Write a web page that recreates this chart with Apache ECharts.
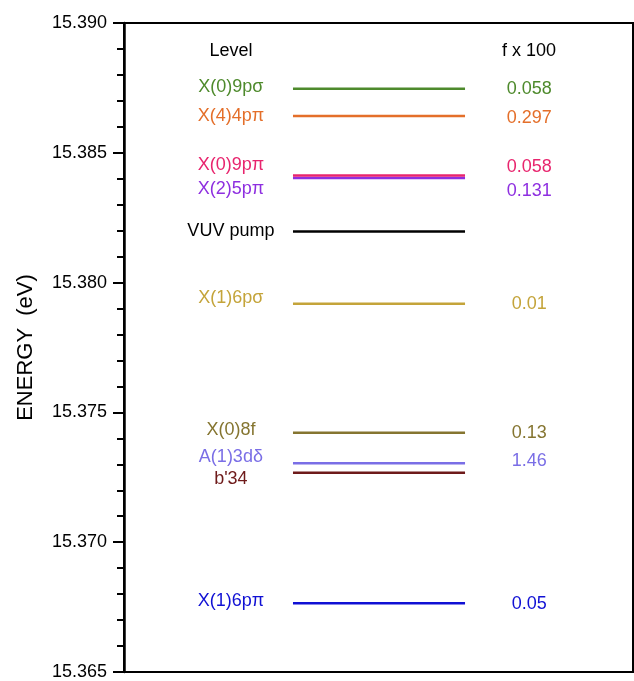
<!DOCTYPE html>
<html>
<head>
<meta charset="utf-8">
<script src="https://cdn.jsdelivr.net/npm/echarts@6/dist/echarts.min.js"></script>
<style>
  html, body { margin: 0; padding: 0; background: #fff; }
  #chart { width: 634px; height: 681px; }
</style>
</head>
<body>
<div id="chart"></div>
<script>
// level names, energies (eV), oscillator strengths (f x 100)
var levelNames = ['X(0)9p\u03c3', 'X(4)4p\u03c0', 'X(0)9p\u03c0', 'X(2)5p\u03c0', 'VUV pump',
                  'X(1)6p\u03c3', 'X(0)8f', 'A(1)3d\u03b4', "b'34", 'X(1)6p\u03c0'];
var levelEnergy = [15.38747, 15.38642, 15.38413, 15.38403, 15.38197,
                   15.37919, 15.37422, 15.37304, 15.37268, 15.36765];
var fValues = ['0.058', '0.297', '0.058', '0.131', '',
               '0.01', '0.13', '1.46', '', '0.05'];
var yTicks = [15.365, 15.370, 15.375, 15.380, 15.385, 15.390];

var colors = ['#4e8a2c', '#e46f2a', '#e8256e', '#8e2fe0', '#000000',
              '#c4a43a', '#857530', '#7a6ee6', '#6e1a1a', '#1010d4'];
// label nudges (px) so overlapping names stay readable
var leftDy  = [-2, 0, -10, 11, 0, -6, -3, -6, 6, -2];
var rightDy = [0, 2, -8, 13, 0, 0, 0, -2, 0, 1];

var X0 = 0.332, X1 = 0.670;     // level bar extent (fraction of plot)
var LX = 0.210, RX = 0.796;     // label columns
var font = 'Liberation Sans, Arial, sans-serif';

var series = [];
levelEnergy.forEach(function(e, i) {
    series.push({
        name: levelNames[i],
        type: 'line',
        data: [[X0, e], [X1, e]],
        symbol: 'none',
        silent: true,
        lineStyle: { color: colors[i], width: 2.5 },
        z: i === 2 ? 3 : 2
    });
});

var labelData = [];
levelEnergy.forEach(function(e, i) {
    labelData.push({
        value: [LX, e],
        label: { formatter: levelNames[i], color: colors[i], offset: [0, leftDy[i]] }
    });
    if (fValues[i]) {
        labelData.push({
            value: [RX, e],
            label: { formatter: fValues[i], color: colors[i], offset: [0, rightDy[i]] }
        });
    }
});
series.push({
    type: 'scatter',
    data: labelData,
    symbolSize: 0,
    silent: true,
    itemStyle: { opacity: 1 },
    label: {
        show: true,
        position: 'inside',
        align: 'center',
        verticalAlign: 'middle',
        fontFamily: font,
        fontSize: 18
    }
});

var myChart = echarts.init(document.getElementById('chart'));
myChart.setOption({
    animation: false,
    grid: {
        left: 124, right: 1, top: 23, bottom: 8,
        show: true, borderColor: '#000', borderWidth: 2
    },
    xAxis: { type: 'value', min: 0, max: 1, show: false },
    yAxis: {
        type: 'value',
        min: yTicks[0],
        max: yTicks[yTicks.length - 1],
        interval: 0.005,
        name: 'ENERGY  (eV)',
        nameLocation: 'middle',
        nameGap: 87,
        nameTextStyle: { fontFamily: font, fontSize: 22, color: '#000' },
        axisLine: { show: true, lineStyle: { color: '#000', width: 2.5 } },
        axisTick: { show: true, length: 11, lineStyle: { color: '#000', width: 2 } },
        minorTick: { show: true, splitNumber: 5, length: 7, lineStyle: { color: '#000', width: 2 } },
        splitLine: { show: false },
        axisLabel: {
            fontFamily: font, fontSize: 18, color: '#000', margin: 17,
            formatter: function(v) { return v.toFixed(3); }
        }
    },
    graphic: [
        { type: 'text', x: 231, y: 51, style: { text: 'Level', font: '18px ' + font, fill: '#000', align: 'center', verticalAlign: 'middle' } },
        { type: 'text', x: 529, y: 51, style: { text: 'f x 100', font: '18px ' + font, fill: '#000', align: 'center', verticalAlign: 'middle' } }
    ],
    series: series
});
</script>
</body>
</html>
